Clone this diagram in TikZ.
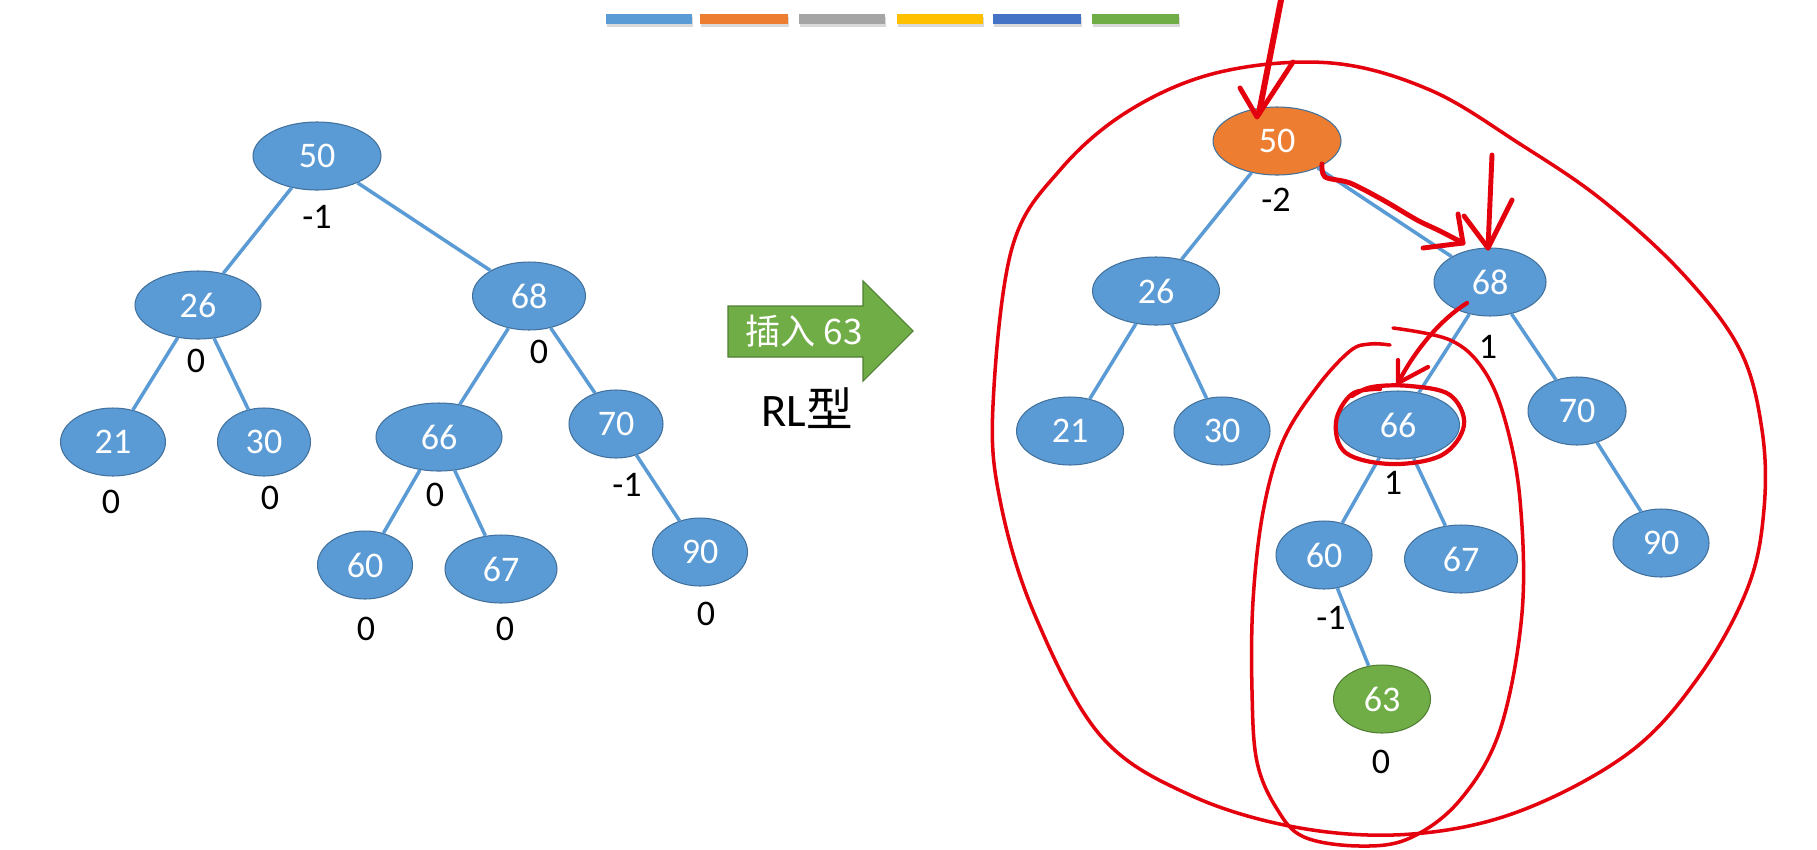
\documentclass[tikz,border=0pt]{standalone}
\usepackage{fontspec}
\setmainfont{Carlito}
\newfontfamily\cjk{Noto Sans CJK SC}
\usetikzlibrary{shapes.geometric,calc}
\definecolor{simpulbiru}{RGB}{91,155,213}
\definecolor{garisbiru}{RGB}{65,113,156}
\definecolor{simpuloranye}{RGB}{237,125,49}
\definecolor{garisoranye}{RGB}{174,90,33}
\definecolor{simpulhijau}{RGB}{112,173,71}
\definecolor{garishijau}{RGB}{80,126,50}
\definecolor{batangabu}{RGB}{165,165,165}
\definecolor{batangkuning}{RGB}{255,192,0}
\definecolor{batangbiru}{RGB}{68,114,196}
\definecolor{tinta}{RGB}{228,0,12}

\begin{document}
\begin{tikzpicture}[x=0.02cm, y=-0.02cm,
    bnode/.style={ellipse, draw=garisbiru, line width=0.6pt, fill=simpulbiru,
        text=white, minimum height=1.36cm, inner sep=0pt,
        font=\fontsize{20.5}{24}\selectfont},
    link/.style={draw=simpulbiru, line width=2pt},
    bal/.style={inner sep=0pt, font=\fontsize{20.5}{24}\selectfont},
    redpen/.style={draw=tinta, line width=2pt, line cap=round, line join=round},
    redarrow/.style={redpen, line width=2.8pt}]

    % Latar dan batas gambar
    \fill[white] (0,0) rectangle (1817,849);
    \useasboundingbox (0,0) rectangle (1817,849);

    % Batang warna di atas
    \foreach \xa/\xb/\warna in {606/692/simpulbiru, 700/788/simpuloranye,
        799/885/batangabu, 897/983/batangkuning, 993/1081/batangbiru,
        1092/1179/simpulhijau} {
        \fill[black!15] (\xa+1,17) rectangle (\xb+1,27);
        \fill[\warna] (\xa,14) rectangle (\xb,24);
    }

    % Pohon kiri
    \node[bnode, minimum width=2.56cm] (L50) at (317,156) {50};
    \node[bnode, minimum width=2.52cm] (L26) at (198,305) {26};
    \node[bnode, minimum width=2.26cm] (L68) at (529,296) {68};
    \node[bnode, minimum width=2.10cm] (L21) at (113,442) {21};
    \node[bnode, minimum width=1.86cm] (L30) at (264,442) {30};
    \node[bnode, minimum width=2.52cm] (L66) at (439,437) {66};
    \node[bnode, minimum width=1.88cm] (L70) at (616,424) {70};
    \node[bnode, minimum width=1.90cm] (L60) at (365,565) {60};
    \node[bnode, minimum width=2.24cm] (L67) at (501,569) {67};
    \node[bnode, minimum width=1.90cm] (L90) at (700,552) {90};
    \draw[link] (L50) -- (L26);
    \draw[link] (L50) -- (L68);
    \draw[link] (L26) -- (L21);
    \draw[link] (L26) -- (L30);
    \draw[link] (L68) -- (L66);
    \draw[link] (L68) -- (L70);
    \draw[link] (L66) -- (L60);
    \draw[link] (L66) -- (L67);
    \draw[link] (L70) -- (L90);

    % Faktor keseimbangan kiri
    \node[bal] (bL50) at (317,217) {-1};
    \node[bal] (bL26) at (196,361) {0};
    \node[bal] (bL68) at (539,352) {0};
    \node[bal] (bL21) at (111,502) {0};
    \node[bal] (bL30) at (270,498) {0};
    \node[bal] (bL66) at (435,495) {0};
    \node[bal] (bL70) at (627,485) {-1};
    \node[bal] (bL60) at (366,629) {0};
    \node[bal] (bL67) at (505,629) {0};
    \node[bal] (bL90) at (706,614) {0};

    % Panah hijau
    \filldraw[fill=simpulhijau, draw=garishijau, line width=0.6pt]
        (728,306) -- (863,306) -- (863,281) -- (913,331) -- (863,381)
        -- (863,357) -- (728,357) -- cycle;
    \node[text=white, inner sep=0pt, font=\cjk\fontsize{20}{23}\selectfont]
        (sisip) at (804,331) {插入 63};
    \node[inner sep=0pt, font=\fontsize{26.5}{30}\selectfont]
        (jenis) at (807,408) {RL{\cjk 型}};

    % Pohon kanan
    \node[bnode, minimum width=2.56cm, fill=simpuloranye] (R50) at (1277,141) {50};
    \node[bnode, minimum width=2.54cm] (R26) at (1156,291) {26};
    \node[bnode, minimum width=2.24cm] (R68) at (1490,282) {68};
    \node[bnode, minimum width=2.14cm] (R21) at (1070,431) {21};
    \node[bnode, minimum width=1.92cm] (R30) at (1222,431) {30};
    \node[bnode, minimum width=2.46cm] (R66) at (1398,425) {66};
    \node[bnode, minimum width=1.96cm] (R70) at (1577,411) {70};
    \node[bnode, minimum width=1.92cm] (R60) at (1324,555) {60};
    \node[bnode, minimum width=2.26cm] (R67) at (1461,559) {67};
    \node[bnode, minimum width=1.92cm] (R90) at (1661,543) {90};
    \node[bnode, minimum width=1.94cm, fill=simpulhijau, draw=garishijau] (R63) at (1382,699) {63};
    \draw[link] (R50) -- (R26);
    \draw[link] (R50) -- (R68);
    \draw[link] (R26) -- (R21);
    \draw[link] (R26) -- (R30);
    \draw[link] (R68) -- (R66);
    \draw[link] (R68) -- (R70);
    \draw[link] (R66) -- (R60);
    \draw[link] (R66) -- (R67);
    \draw[link] (R70) -- (R90);
    \draw[link] (R60) -- (R63);

    % Faktor keseimbangan kanan
    \node[bal] (bR50) at (1276,200) {-2};
    \node[bal] (bR68) at (1488,347) {1};
    \node[bal] (bR66) at (1393,483) {1};
    \node[bal] (bR60) at (1331,618) {-1};
    \node[bal] (bR63) at (1381,762) {0};

    % Coretan merah
    \draw[redpen] plot[smooth cycle, tension=0.6] coordinates {
        (1331,63) (1430,90) (1520,144) (1602,200) (1683,274) (1740,350)
        (1762,430) (1764,509) (1748,587) (1700,675) (1630,752) (1520,811)
        (1412,834) (1300,828) (1190,795) (1100,735) (1034,613) (1000,500)
        (993,405) (1012,248) (1060,170) (1130,110) (1220,72)};
    \draw[redpen] plot[smooth, tension=0.6] coordinates {
        (1393,328) (1450,340) (1483,369) (1505,420) (1520,500) (1522,613)
        (1500,730) (1460,800) (1410,838) (1360,846) (1304,837) (1277,809)
        (1257,762) (1252,691) (1253,601) (1263,512) (1283,441) (1317,387)
        (1350,351) (1370,344) (1390,345)};
    \draw[redpen, line width=2.4pt] plot[smooth, tension=0.6] coordinates {
        (1352,396) (1372,387) (1410,386) (1450,395) (1464,425) (1442,455)
        (1392,464) (1346,453) (1336,422) (1352,394) (1380,389)};

    % Panah merah
    \draw[redarrow, line width=3.4pt] (1281,0) -- (1259,113);
    \draw[redarrow] (1240,88) -- (1257,117) -- (1293,62);
    \draw[redarrow] plot[smooth, tension=0.5] coordinates {
        (1322,164) (1325,177) (1350,183) (1383,200) (1417,220) (1440,231) (1463,243)};
    \draw[redarrow] (1423,248) -- (1463,243) -- (1458,214);
    \draw[redarrow] (1492,155) -- (1488,248);
    \draw[redarrow] (1464,216) -- (1488,248) -- (1512,200);
    \draw[redpen, line width=2.4pt] (1467,303) .. controls (1440,320) and (1415,350) .. (1398,383);
    \draw[redpen, line width=2.4pt] (1398,360) -- (1398,383) -- (1428,367);

\end{tikzpicture}
\end{document}
